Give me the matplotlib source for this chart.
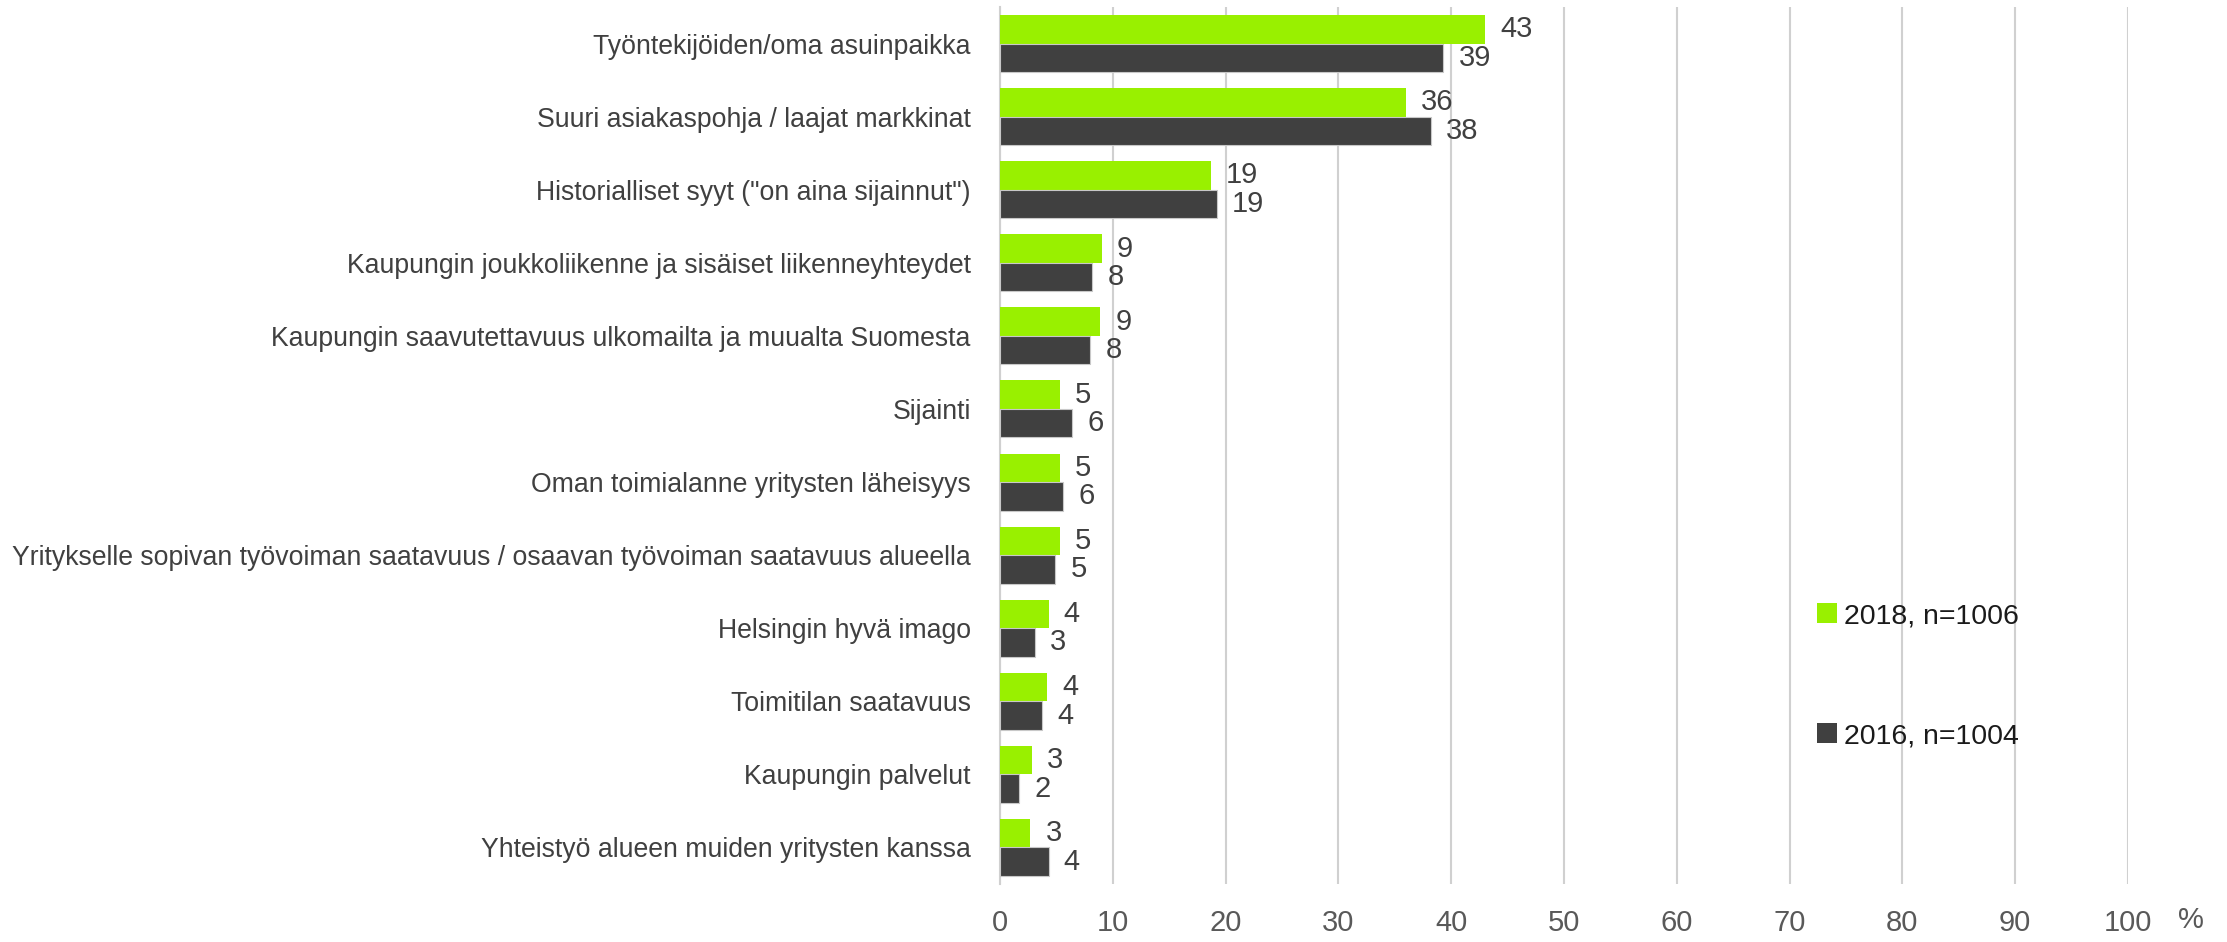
import matplotlib
matplotlib.use("Agg")
import matplotlib.pyplot as plt
from matplotlib.patches import Patch
import numpy as np

plt.rcParams['font.family'] = ['Liberation Sans', 'DejaVu Sans']

categories = [
    "Työntekijöiden/oma asuinpaikka",
    "Suuri asiakaspohja / laajat markkinat",
    'Historialliset syyt ("on aina sijainnut")',
    "Kaupungin joukkoliikenne ja sisäiset liikenneyhteydet",
    "Kaupungin saavutettavuus ulkomailta ja muualta Suomesta",
    "Sijainti",
    "Oman toimialanne yritysten läheisyys",
    "Yritykselle sopivan työvoiman saatavuus / osaavan työvoiman saatavuus alueella",
    "Helsingin hyvä imago",
    "Toimitilan saatavuus",
    "Kaupungin palvelut",
    "Yhteistyö alueen muiden yritysten kanssa",
]
values_2018 = [43.0, 36.0, 18.7, 9.0, 8.9, 5.3, 5.3, 5.3, 4.3, 4.2, 2.8, 2.7]
values_2016 = [39.3, 38.2, 19.2, 8.2, 8.0, 6.4, 5.6, 4.9, 3.1, 3.7, 1.7, 4.3]
series_labels = ["2018, n=1006", "2016, n=1004"]
xticks = [0, 10, 20, 30, 40, 50, 60, 70, 80, 90, 100]

GREEN = "#99F000"
DARK = "#404040"
TXT = "#404040"
GRID = "#D0D0D0"

fig = plt.figure(figsize=(22.27, 9.42), dpi=100)
ax = fig.add_axes([1000 / 2227, 1 - 884 / 942, 1128 / 2227, 877 / 942])

y = np.arange(len(categories))
h = 0.39
b1 = ax.barh(y - h / 2, values_2018, height=h, color=GREEN, edgecolor="none", zorder=3)
b2 = ax.barh(y + h / 2, values_2016, height=h, color=DARK, edgecolor="#c8c8c8", linewidth=0.8, zorder=3)

for bars, vals in ((b1, values_2018), (b2, values_2016)):
    for rect, v in zip(bars, vals):
        ax.annotate(f"{v:.0f}", (v, rect.get_y() + rect.get_height() / 2),
                    xytext=(11, 0), textcoords="offset points",
                    ha="left", va="center", fontsize=21, color=TXT)

ax.set_ylim(len(categories) - 0.5, -0.5)
ax.set_xlim(0, 100)
ax.set_xticks(xticks)
ax.set_xticklabels([str(t) for t in xticks], fontsize=21, color="#595959")
ax.set_yticks(y)
ax.set_yticklabels(categories, fontsize=19.2, color=TXT)
ax.tick_params(axis="y", length=0, pad=21)
ax.tick_params(axis="x", length=0, pad=18)

ax.grid(axis="x", color=GRID, linewidth=1.5, zorder=0)
for s in ["top", "right", "bottom"]:
    ax.spines[s].set_visible(False)
ax.spines["left"].set_color(GRID)
ax.spines["left"].set_linewidth(1.5)

fig.text(2191 / 2227, 1 - 920 / 942, "%", fontsize=21, color="#595959", ha="center", va="center")

handles = [Patch(facecolor=GREEN, edgecolor="none"), Patch(facecolor=DARK, edgecolor="none")]
fig.legend(handles, series_labels, loc="upper left", bbox_to_anchor=(1806 / 2227, 1 - 592 / 942),
           frameon=False, fontsize=20.5, labelcolor="#1a1a1a", handlelength=0.7, handleheight=0.7,
           handletextpad=0.25, labelspacing=3.3, borderaxespad=0)

fig.savefig("out.png", dpi=100, facecolor="white")
